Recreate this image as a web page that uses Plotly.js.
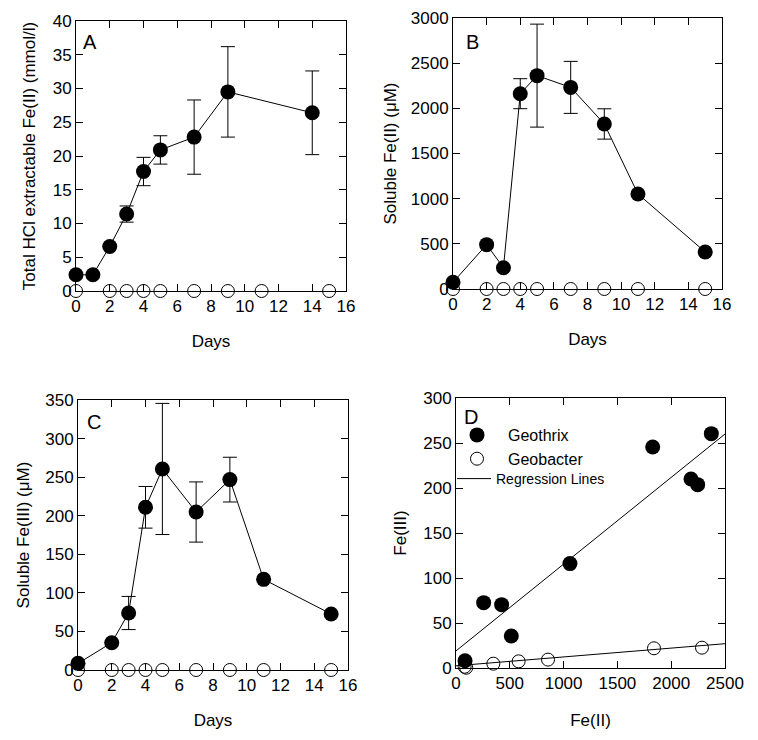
<!DOCTYPE html>
<html>
<head>
<meta charset="utf-8">
<script src="https://cdn.plot.ly/plotly-3.0.1.min.js"></script>
<style>html,body{margin:0;padding:0;background:#fff;}#chart{width:758px;height:740px;}</style>
</head>
<body>
<div id="chart"></div>
<script>
// ---- Data ----
// Panel A: total HCl extractable Fe(II) (mmol/l)
const daysGeothrixA = [0, 1, 2, 3, 4, 5, 7, 9, 14];
const geothrixA = [2.4, 2.4, 6.6, 11.4, 17.7, 20.9, 22.8, 29.5, 26.4];
const geothrixAErr = [null, null, null, 1.2, 2.1, 2.1, 5.5, 6.7, 6.2];
const daysGeobacter = [0, 2, 3, 4, 5, 7, 9, 11, 15];
const geobacterA = [0, 0, 0, 0, 0, 0, 0, 0, 0];

// Panel B: soluble Fe(II) (uM)
const daysGeothrixB = [0, 2, 3, 4, 5, 7, 9, 11, 15];
const geothrixB = [74, 491, 236, 2162, 2362, 2232, 1827, 1052, 410];
const geothrixBErr = [null, null, null, 166, 570, 288, 168, null, null];
const geobacterB = [0, 0, 0, 0, 0, 0, 0, 0, 0];

// Panel C: soluble Fe(III) (uM)
const daysGeothrixC = [0, 2, 3, 4, 5, 7, 9, 11, 15];
const geothrixC = [8.6, 35.4, 73.9, 210.9, 260.6, 204.8, 246.8, 117.5, 72.6];
const geothrixCErr = [null, null, 21.5, 27, 85, 39, 29, null, null];
const geobacterC = [0, 0, 0, 0, 0, 0, 0, 0, 0];

// Panel D: Fe(III) vs Fe(II)
const geothrixFe2 = [84, 257, 424, 514, 1059, 1828, 2184, 2246, 2373];
const geothrixFe3 = [8, 72.6, 70.4, 35.6, 116, 245.6, 210, 203.7, 260.4];
const geobacterFe2 = [80, 95, 347, 582, 855, 1840, 2286];
const geobacterFe3 = [1.4, 0.3, 4.8, 7.4, 9.3, 21.9, 22.6];
const regressionX = [0, 2500];
const geothrixRegY = [19, 260];
const geobacterRegY = [2.5, 27];

const panelLetters = ['A', 'B', 'C', 'D'];

// ---- Styles ----
const FONT = 'Liberation Sans, Arial, Helvetica, sans-serif';
const filled = {symbol: 'circle', size: 15, color: 'black'};
const open = {symbol: 'circle-open', size: 13, color: 'black', line: {width: 1}};
const dataLine = {color: 'black', width: 1};
function err(arr) {
  return {type: 'data', array: arr, visible: true, color: 'black', thickness: 1, width: 7};
}

const traces = [
  // A
  {x: daysGeothrixA, y: geothrixA, xaxis: 'x', yaxis: 'y', mode: 'lines+markers', marker: filled, line: dataLine, error_y: err(geothrixAErr), showlegend: false, cliponaxis: false},
  {x: daysGeobacter, y: geobacterA, xaxis: 'x', yaxis: 'y', mode: 'markers', marker: open, showlegend: false, cliponaxis: false},
  // B
  {x: daysGeothrixB, y: geothrixB, xaxis: 'x2', yaxis: 'y2', mode: 'lines+markers', marker: filled, line: dataLine, error_y: err(geothrixBErr), showlegend: false, cliponaxis: false},
  {x: daysGeobacter, y: geobacterB, xaxis: 'x2', yaxis: 'y2', mode: 'markers', marker: open, showlegend: false, cliponaxis: false},
  // C
  {x: daysGeothrixC, y: geothrixC, xaxis: 'x3', yaxis: 'y3', mode: 'lines+markers', marker: filled, line: dataLine, error_y: err(geothrixCErr), showlegend: false, cliponaxis: false},
  {x: daysGeobacter, y: geobacterC, xaxis: 'x3', yaxis: 'y3', mode: 'markers', marker: open, showlegend: false, cliponaxis: false},
  // D
  {x: regressionX, y: geothrixRegY, xaxis: 'x4', yaxis: 'y4', mode: 'lines', line: dataLine, name: 'Regression Lines', legend: 'legend2', showlegend: true},
  {x: regressionX, y: geobacterRegY, xaxis: 'x4', yaxis: 'y4', mode: 'lines', line: dataLine, name: 'Regression Lines', legend: 'legend2', showlegend: false},
  {x: geothrixFe2, y: geothrixFe3, xaxis: 'x4', yaxis: 'y4', mode: 'markers', marker: filled, name: 'Geothrix', showlegend: true, cliponaxis: false},
  {x: geobacterFe2, y: geobacterFe3, xaxis: 'x4', yaxis: 'y4', mode: 'markers', marker: open, name: 'Geobacter', showlegend: true, cliponaxis: false}
];

const W = 758, H = 740;
function dom(px0, px1) { return [px0 / W, px1 / W]; }
function domY(top, bottom) { return [1 - bottom / H, 1 - top / H]; }

function axis(extra) {
  return Object.assign({
    showline: true, mirror: 'ticks', linecolor: 'black', linewidth: 1,
    ticks: 'inside', ticklen: 7, tickcolor: 'black', tickwidth: 1,
    showgrid: false, zeroline: false, automargin: false,
    tickfont: {family: FONT, size: 17, color: 'black'}
  }, extra);
}
function ttl(text, standoff) {
  return {text: text, font: {family: FONT, size: 17, color: 'black'}, standoff: standoff};
}

const layout = {
  width: W, height: H,
  margin: {l: 0, r: 0, t: 0, b: 0},
  paper_bgcolor: 'white', plot_bgcolor: 'white',
  font: {family: FONT, color: 'black'},
  xaxis: axis({domain: dom(76, 346), range: [0, 16], tick0: 0, dtick: 2, anchor: 'y', title: ttl('Days', 19)}),
  yaxis: axis({domain: domY(21, 291), range: [0, 40], tick0: 0, dtick: 5, anchor: 'x', title: ttl('Total HCl extractable Fe(II) (mmol/l)', 12)}),
  xaxis2: axis({domain: dom(453, 722), range: [0, 16], tick0: 0, dtick: 2, anchor: 'y2', title: ttl('Days', 19)}),
  yaxis2: axis({domain: domY(18, 289), range: [0, 3000], tick0: 0, dtick: 500, anchor: 'x2', title: ttl('Soluble Fe(II) (μM)', 9)}),
  xaxis3: axis({domain: dom(78, 348), range: [0, 16], tick0: 0, dtick: 2, anchor: 'y3', title: ttl('Days', 19)}),
  yaxis3: axis({domain: domY(400, 670), range: [0, 350], tick0: 0, dtick: 50, anchor: 'x3', title: ttl('Soluble Fe(III) (μM)', 11)}),
  xaxis4: axis({domain: dom(456, 725), range: [0, 2500], tick0: 0, dtick: 500, anchor: 'y4', title: ttl('Fe(II)', 21)}),
  yaxis4: axis({domain: domY(398, 668), range: [0, 300], tick0: 0, dtick: 50, anchor: 'x4', title: ttl('Fe(III)', 12)}),
  showlegend: true,
  legend: {
    x: 446 / W, y: 1 - 418 / H, xanchor: 'left', yanchor: 'top',
    bgcolor: 'rgba(0,0,0,0)', borderwidth: 0, itemwidth: 52, tracegroupgap: 0,
    font: {family: FONT, size: 16, color: 'black'}, itemclick: false, itemdoubleclick: false
  },
  legend2: {
    x: 452 / W, y: 1 - 463 / H, xanchor: 'left', yanchor: 'top',
    bgcolor: 'rgba(0,0,0,0)', borderwidth: 0, itemwidth: 34,
    font: {family: FONT, size: 14, color: 'black'}, itemclick: false, itemdoubleclick: false
  },
  annotations: [
    {text: panelLetters[0], x: 90 / W, y: 1 - 42 / H},
    {text: panelLetters[1], x: 472 / W, y: 1 - 42 / H},
    {text: panelLetters[2], x: 94 / W, y: 1 - 422 / H},
    {text: panelLetters[3], x: 471 / W, y: 1 - 417 / H}
  ].map(a => Object.assign(a, {xref: 'paper', yref: 'paper', xanchor: 'center', yanchor: 'middle', showarrow: false, font: {family: FONT, size: 20, color: 'black'}}))
};

Plotly.newPlot('chart', traces, layout, {staticPlot: true, displayModeBar: false});
</script>
</body>
</html>
